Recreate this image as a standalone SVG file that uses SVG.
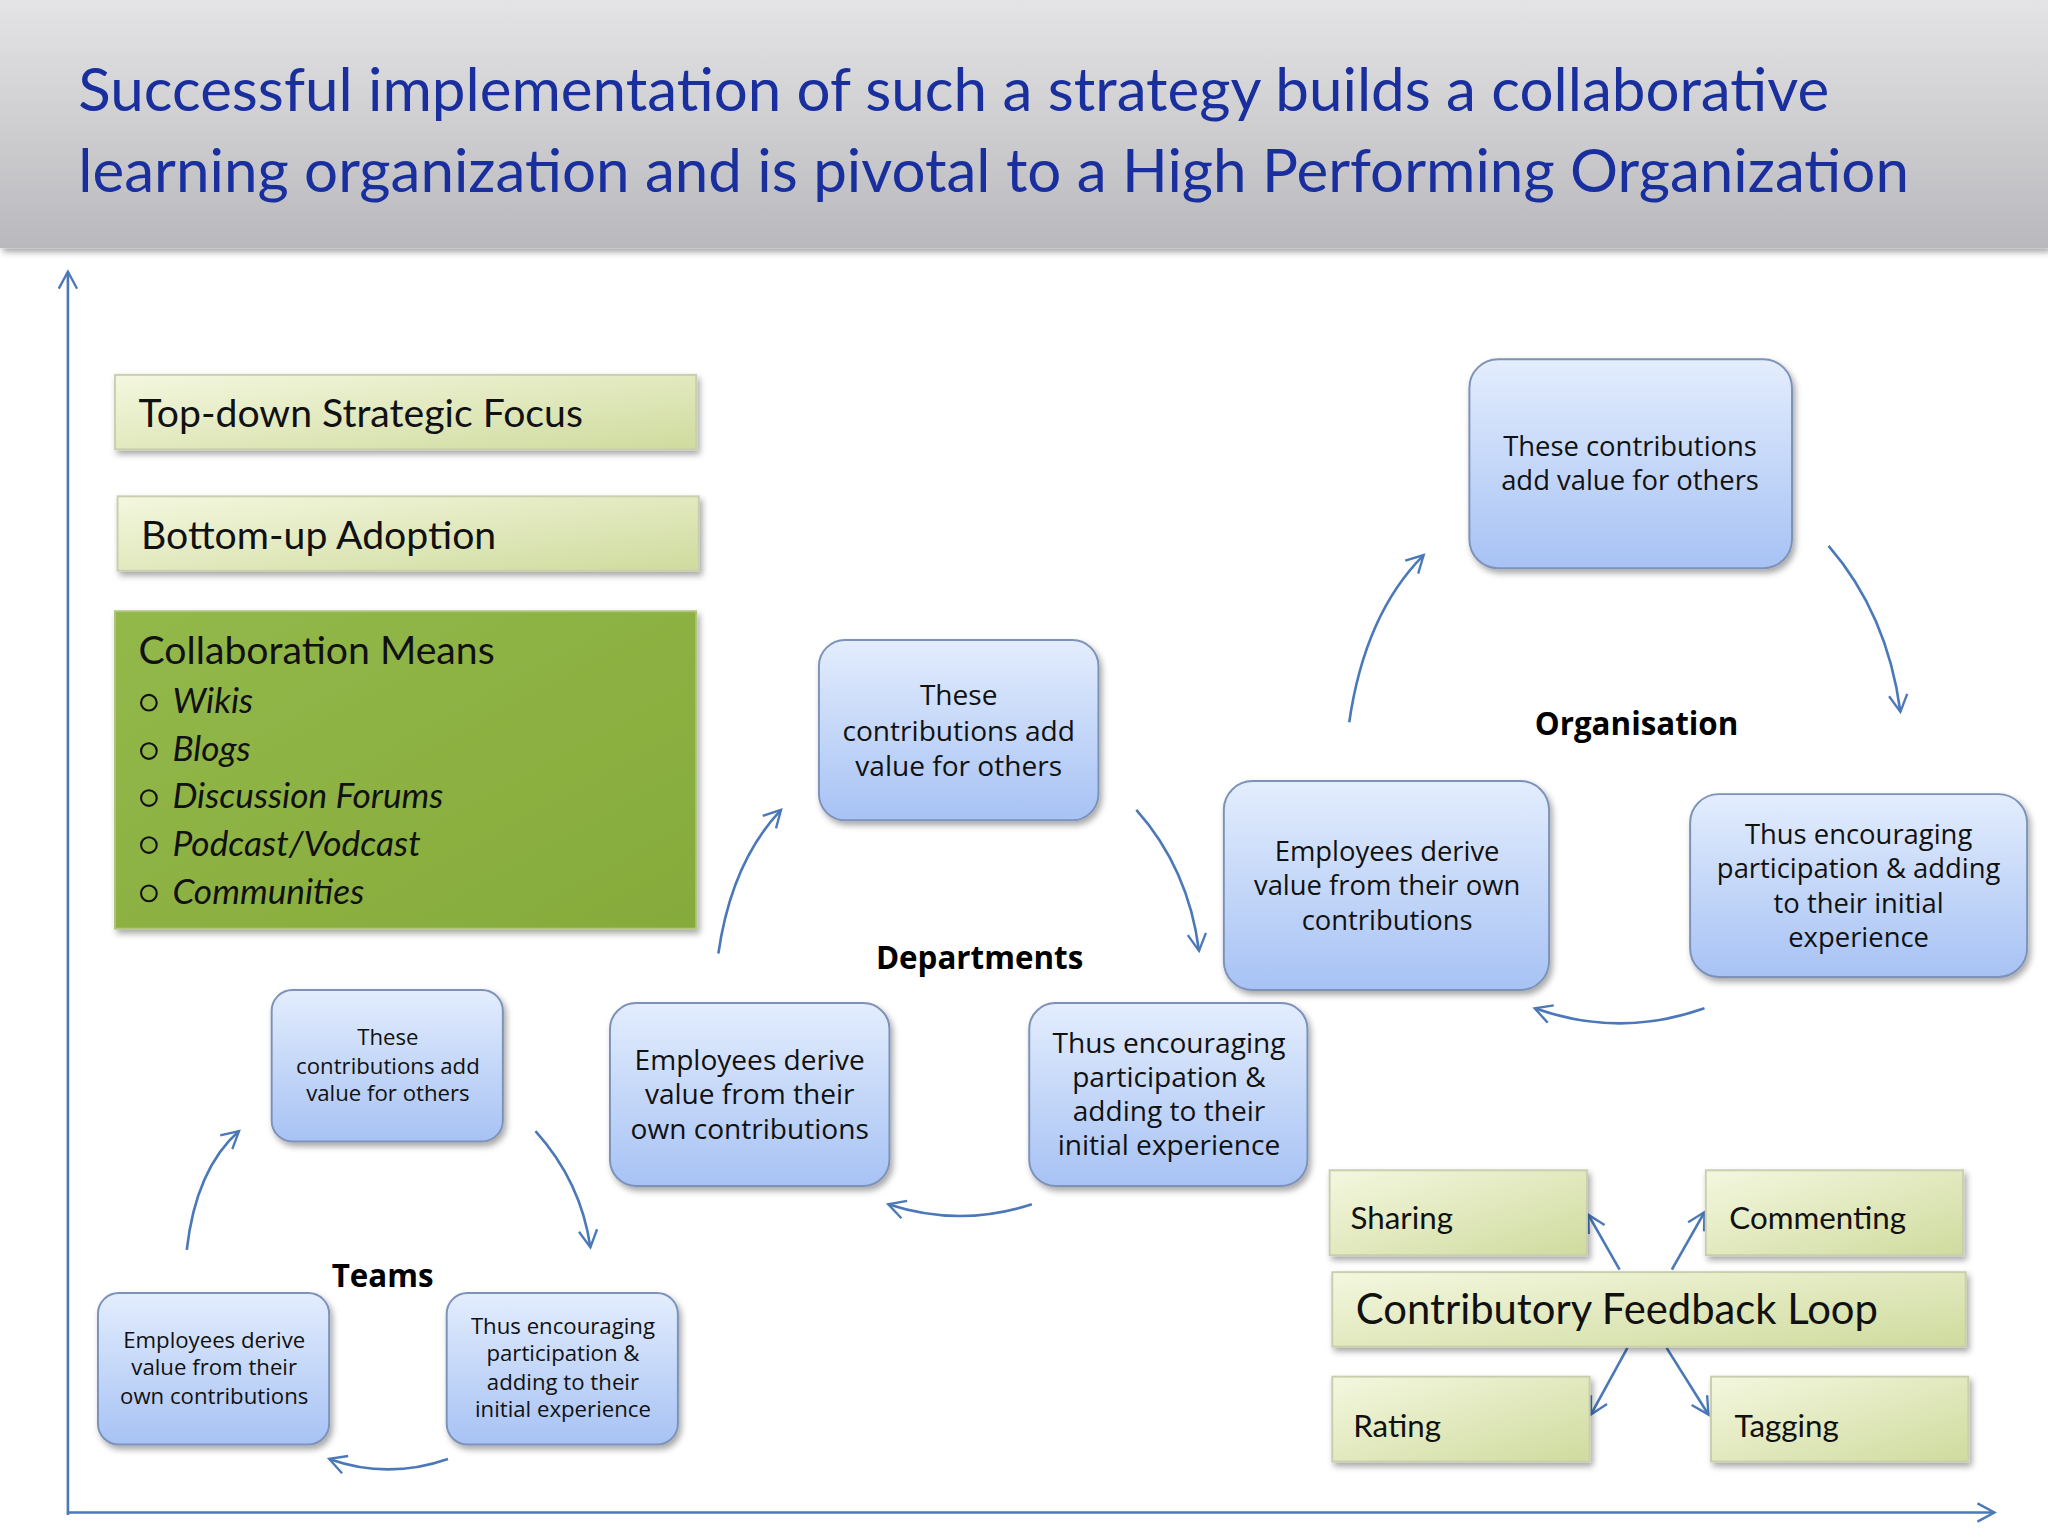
<svg xmlns="http://www.w3.org/2000/svg" width="2048" height="1536" viewBox="0 0 2048 1536">
<defs>
<linearGradient id="hdr" x1="0" y1="0" x2="0" y2="1"><stop offset="0" stop-color="#e4e4e6"/><stop offset="1" stop-color="#b9b9bd"/></linearGradient>
<linearGradient id="lg" x1="0" y1="0" x2="1" y2="1"><stop offset="0" stop-color="#f4f7df"/><stop offset="1" stop-color="#cfdb9e"/></linearGradient>
<linearGradient id="dg" x1="0" y1="0" x2="1" y2="1"><stop offset="0" stop-color="#93b84a"/><stop offset="1" stop-color="#86ab3c"/></linearGradient>
<linearGradient id="bl" x1="0" y1="0" x2="0" y2="1"><stop offset="0" stop-color="#e3edfd"/><stop offset="1" stop-color="#a7c2f4"/></linearGradient>
<filter id="sh" x="-10%" y="-10%" width="130%" height="130%"><feDropShadow dx="2" dy="3" stdDeviation="2.5" flood-color="#000" flood-opacity="0.35"/></filter>
<marker id="ah" viewBox="0 0 16 16" refX="14" refY="8" markerWidth="16" markerHeight="16" orient="auto" markerUnits="userSpaceOnUse"><path d="M1,1 L14,8 L1,15" fill="none" stroke="#4a78b8" stroke-width="1.8"/></marker>
</defs>
<style>
.t{font-family:"Open Sans","Liberation Sans",sans-serif;fill:#111;text-anchor:middle}
.g{font-family:Lato,"Open Sans",sans-serif;fill:#111}
.lb{font-family:"Open Sans","Liberation Sans",sans-serif;font-weight:bold;fill:#000;text-anchor:middle;font-size:24px}
.box{fill:url(#bl);stroke:#7d92b8;stroke-width:1.5;filter:url(#sh)}
.lgb{fill:url(#lg);stroke:#c9cfae;stroke-width:1.5;filter:url(#sh)}
.c{fill:none;stroke:#4a78b8;stroke-width:2;marker-end:url(#ah)}
</style>
<rect width="2048" height="1536" fill="#fff"/>
<g transform="scale(1.30612)">
<g id="header">
<rect x="0" y="0" width="1568" height="190" fill="url(#hdr)" filter="url(#sh)"/>
<text x="60" y="85" font-family="Lato,'Open Sans',sans-serif" font-size="46" fill="#1a2f9e">Successful implementation of such a strategy builds a collaborative</text>
<text x="60" y="147" font-family="Lato,'Open Sans',sans-serif" font-size="46" fill="#1a2f9e">learning organization and is pivotal to a High Performing Organization</text>
</g>
<g id="connectors">
<path class="c" d="M52,1160 L52,208"/>
<path class="c" d="M52,1158 L1527,1158"/>
<path class="c" d="M1033,553 Q1045,470 1090,425"/>
<path class="c" d="M1400,418 Q1445,470 1455,545"/>
<path class="c" d="M1305,772 Q1240,795 1175,772"/>
<path class="c" d="M550,730 Q560,660 598,620"/>
<path class="c" d="M870,620 Q910,665 918,728"/>
<path class="c" d="M790,922 Q735,940 680,922"/>
<path class="c" d="M143,957 Q150,895 183,866"/>
<path class="c" d="M410,866 Q445,905 452,955"/>
<path class="c" d="M343,1117 Q297,1133 252,1117"/>
<path class="c" d="M1240,972 L1216,930"/>
<path class="c" d="M1280,972 L1305,928"/>
<path class="c" d="M1246,1032 L1218,1083"/>
<path class="c" d="M1276,1032 L1308,1083"/>
</g>
<g id="topdown"><rect class="lgb" x="88" y="287" width="445" height="57"/><text class="g" x="106" y="327" font-size="30">Top-down Strategic Focus</text></g>
<g id="bottomup"><rect class="lgb" x="90" y="380" width="445" height="57"/><text class="g" x="108" y="420" font-size="30">Bottom-up Adoption</text></g>
<g id="means"><rect x="88" y="468" width="445" height="243" fill="url(#dg)" stroke="#aec57a" stroke-width="1.5" filter="url(#sh)"/>
<text class="g" x="106" y="508" font-size="30">Collaboration Means</text>
<g fill="none" stroke="#111" stroke-width="1.6">
<circle cx="114" cy="538" r="6"/><circle cx="114" cy="575" r="6"/><circle cx="114" cy="611" r="6"/><circle cx="114" cy="647" r="6"/><circle cx="114" cy="684" r="6"/>
</g>
<g font-size="27" font-style="italic">
<text class="g" x="132" y="546">Wikis</text>
<text class="g" x="132" y="583">Blogs</text>
<text class="g" x="132" y="619">Discussion Forums</text>
<text class="g" x="132" y="655">Podcast/Vodcast</text>
<text class="g" x="132" y="692">Communities</text>
</g></g>
<g id="org-top"><rect class="box" x="1125" y="275" width="247" height="160" rx="22"/><text class="t" font-size="21"><tspan x="1248" y="349">These contributions</tspan><tspan x="1248" y="375">add value for others</tspan></text></g>
<g id="org-left"><rect class="box" x="937" y="598" width="249" height="160" rx="22"/><text class="t" font-size="21"><tspan x="1062" y="659">Employees derive</tspan><tspan x="1062" y="685">value from their own</tspan><tspan x="1062" y="712">contributions</tspan></text></g>
<g id="org-right"><rect class="box" x="1294" y="608" width="258" height="140" rx="22"/><text class="t" font-size="21"><tspan x="1423" y="646">Thus encouraging</tspan><tspan x="1423" y="672">participation &amp; adding</tspan><tspan x="1423" y="699">to their initial</tspan><tspan x="1423" y="725">experience</tspan></text></g>
<text class="lb" x="1253" y="563">Organisation</text>
<g id="dep-top"><rect class="box" x="627" y="490" width="214" height="138" rx="20"/><text class="t" font-size="21.5"><tspan x="734" y="540">These</tspan><tspan x="734" y="567">contributions add</tspan><tspan x="734" y="594">value for others</tspan></text></g>
<g id="dep-left"><rect class="box" x="467" y="768" width="214" height="140" rx="20"/><text class="t" font-size="21.5"><tspan x="574" y="819">Employees derive</tspan><tspan x="574" y="845">value from their</tspan><tspan x="574" y="872">own contributions</tspan></text></g>
<g id="dep-right"><rect class="box" x="788" y="768" width="213" height="140" rx="20"/><text class="t" font-size="21.5"><tspan x="895" y="806">Thus encouraging</tspan><tspan x="895" y="832">participation &amp;</tspan><tspan x="895" y="858">adding to their</tspan><tspan x="895" y="884">initial experience</tspan></text></g>
<text class="lb" x="750" y="742">Departments</text>
<g id="team-top"><rect class="box" x="208" y="758" width="177" height="116" rx="16"/><text class="t" font-size="17"><tspan x="297" y="800">These</tspan><tspan x="297" y="822">contributions add</tspan><tspan x="297" y="843">value for others</tspan></text></g>
<g id="team-left"><rect class="box" x="75" y="990" width="177" height="116" rx="16"/><text class="t" font-size="17"><tspan x="164" y="1032">Employees derive</tspan><tspan x="164" y="1053">value from their</tspan><tspan x="164" y="1075">own contributions</tspan></text></g>
<g id="team-right"><rect class="box" x="342" y="990" width="177" height="116" rx="16"/><text class="t" font-size="17"><tspan x="431" y="1021">Thus encouraging</tspan><tspan x="431" y="1042">participation &amp;</tspan><tspan x="431" y="1064">adding to their</tspan><tspan x="431" y="1085">initial experience</tspan></text></g>
<text class="lb" x="293" y="985">Teams</text>
<g id="sharing"><rect class="lgb" x="1018" y="896" width="197" height="65"/><text class="g" x="1034" y="941" font-size="24">Sharing</text></g>
<g id="commenting"><rect class="lgb" x="1306" y="896" width="197" height="65"/><text class="g" x="1324" y="941" font-size="24">Commenting</text></g>
<g id="loop"><rect class="lgb" x="1020" y="974" width="485" height="57"/><text class="g" x="1038" y="1014" font-size="32">Contributory Feedback Loop</text></g>
<g id="rating"><rect class="lgb" x="1020" y="1054" width="197" height="65"/><text class="g" x="1036" y="1100" font-size="24">Rating</text></g>
<g id="tagging"><rect class="lgb" x="1310" y="1054" width="197" height="65"/><text class="g" x="1328" y="1100" font-size="24">Tagging</text></g>
</g>
</svg>
